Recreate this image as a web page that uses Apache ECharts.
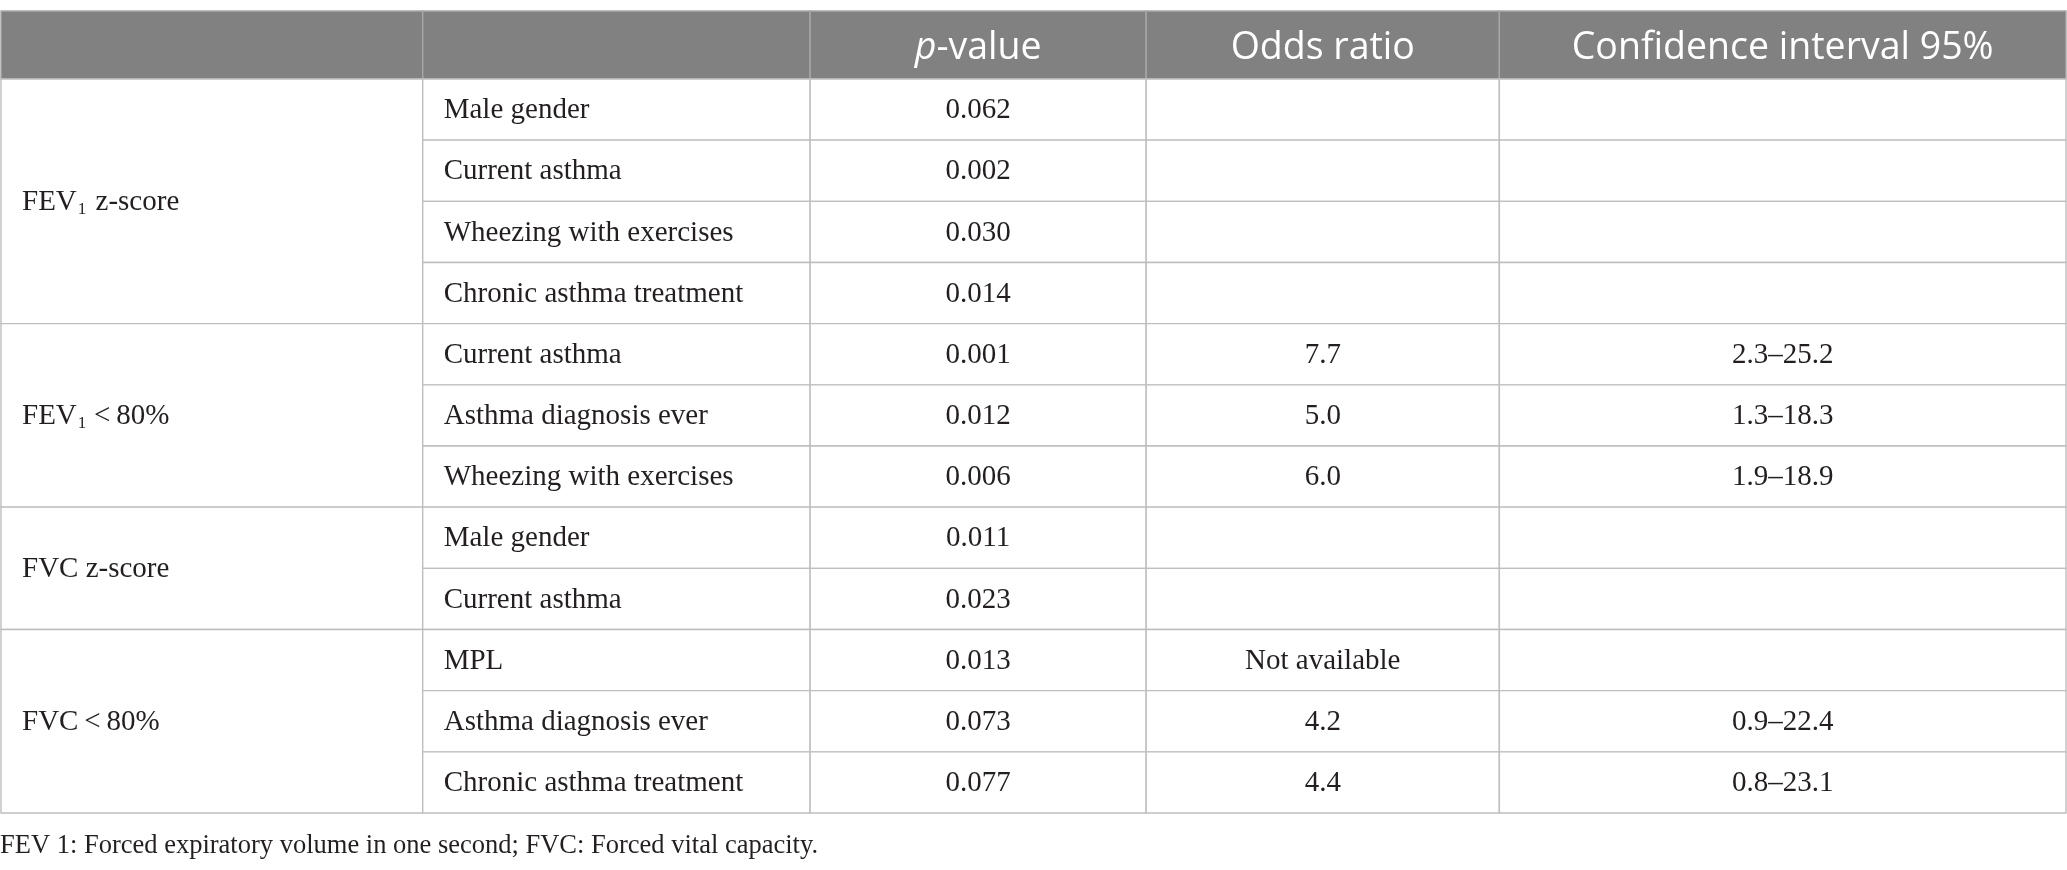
<!DOCTYPE html>
<html lang="en">
<head>
<meta charset="UTF-8">
<title>Lung function table</title>
<script src="https://cdn.jsdelivr.net/npm/echarts@6/dist/echarts.min.js"></script>
<style>
    html, body { margin: 0; padding: 0; background: #fff; }
    #main { width: 2067px; height: 870px; }
</style>
</head>
<body>
<div id="main"></div>
<script>
    // header texts, left to right ({it|..} = italic)
    var headers = ['', '', '{it|p}-value', 'Odds ratio', 'Confidence interval 95%'];
    // relative column widths
    var colWidths = [320, 294, 255, 268, 430];

    // row groups ({sub|..} = subscript) and how many rows each one spans
    var groups = ['FEV{sub|1} z-score', 'FEV{sub|1}\u2009<\u200980%', 'FVC z-score', 'FVC\u2009<\u200980%'];
    var groupSpans = [4, 3, 2, 3];

    var variables = [
        'Male gender', 'Current asthma', 'Wheezing with exercises', 'Chronic asthma treatment',
        'Current asthma', 'Asthma diagnosis ever', 'Wheezing with exercises',
        'Male gender', 'Current asthma',
        'MPL', 'Asthma diagnosis ever', 'Chronic asthma treatment'
    ];
    var pValues = ['0.062', '0.002', '0.030', '0.014', '0.001', '0.012', '0.006', '0.011', '0.023', '0.013', '0.073', '0.077'];
    var oddsRatios = ['', '', '', '', '7.7', '5.0', '6.0', '', '', 'Not available', '4.2', '4.4'];
    var confIntervals = ['', '', '', '', '2.3\u201325.2', '1.3\u201318.3', '1.9\u201318.9', '', '', '', '0.9\u201322.4', '0.8\u201323.1'];

    var footnote = 'FEV 1: Forced expiratory volume in one second; FVC: Forced vital capacity.';

    // column edges from the widths
    var colEdges = [0];
    colWidths.forEach(function (w, i) { colEdges.push(colEdges[i] + w); });
    var totalWidth = colEdges[colEdges.length - 1];
    var rowCount = variables.length;

    // header cells
    var headCells = headers.map(function (h, i) {
        return { value: [colEdges[i], colEdges[i + 1], 0, 1], text: h, align: 'center' };
    });

    // body cells
    var bodyCells = [];
    var r = 0;
    groups.forEach(function (g, i) {
        bodyCells.push({ value: [colEdges[0], colEdges[1], r, r + groupSpans[i]], text: g, align: 'left' });
        r += groupSpans[i];
    });
    var columns = [variables, pValues, oddsRatios, confIntervals];
    columns.forEach(function (col, c) {
        col.forEach(function (t, i) {
            bodyCells.push({ value: [colEdges[c + 1], colEdges[c + 2], i, i + 1], text: t, align: c === 0 ? 'left' : 'center' });
        });
    });

    var serif = '"Liberation Serif", "DejaVu Serif", serif';
    var sans = '"Open Sans", "Noto Sans", sans-serif';

    function cellRenderer(cells, look) {
        return function (params, api) {
            var cell = cells[params.dataIndex];
            var p0 = api.coord([api.value(0), api.value(2)]);
            var p1 = api.coord([api.value(1), api.value(3)]);
            var w = p1[0] - p0[0];
            var h = p1[1] - p0[1];
            var left = cell.align === 'left';
            return {
                type: 'group',
                children: [
                    {
                        type: 'rect',
                        shape: { x: p0[0], y: p0[1], width: w, height: h },
                        style: { fill: look.fill, stroke: look.stroke, lineWidth: 1.4 }
                    },
                    {
                        type: 'text',
                        x: left ? p0[0] + look.pad : p0[0] + w / 2,
                        y: p0[1] + h / 2 + look.dy,
                        style: {
                            text: cell.text,
                            align: left ? 'left' : 'center',
                            verticalAlign: 'middle',
                            fontFamily: look.font,
                            fontSize: look.size,
                            fill: look.color,
                            rich: look.rich
                        }
                    }
                ]
            };
        };
    }

    var chartDom = document.getElementById('main');
    var myChart = echarts.init(chartDom, null, { renderer: 'canvas' });

    var option = {
        backgroundColor: '#ffffff',
        animation: false,
        title: {
            text: footnote,
            left: 0,
            top: 833,
            padding: 0,
            textStyle: { fontFamily: serif, fontSize: 26.5, fontWeight: 'normal', color: '#231f20' }
        },
        grid: [
            { left: 1, right: 1, top: 11, height: 68 },
            { left: 1, right: 1, top: 79, height: 734 }
        ],
        xAxis: [
            { type: 'value', gridIndex: 0, min: 0, max: totalWidth, show: false },
            { type: 'value', gridIndex: 1, min: 0, max: totalWidth, show: false }
        ],
        yAxis: [
            { type: 'value', gridIndex: 0, min: 0, max: 1, inverse: true, show: false },
            { type: 'value', gridIndex: 1, min: 0, max: rowCount, inverse: true, show: false }
        ],
        series: [
            {
                type: 'custom',
                xAxisIndex: 0,
                yAxisIndex: 0,
                encode: { x: [0, 1], y: [2, 3] },
                data: headCells.map(function (c) { return c.value; }),
                renderItem: cellRenderer(headCells, {
                    fill: '#808180', stroke: '#a6a7a6', pad: 20, dy: 3,
                    font: sans, size: 37.5, color: '#ffffff',
                    rich: { it: { fontFamily: sans, fontSize: 37.5, fontStyle: 'italic', color: '#ffffff' } }
                })
            },
            {
                type: 'custom',
                xAxisIndex: 1,
                yAxisIndex: 1,
                encode: { x: [0, 1], y: [2, 3] },
                data: bodyCells.map(function (c) { return c.value; }),
                renderItem: cellRenderer(bodyCells, {
                    fill: '#ffffff', stroke: '#bebebe', pad: 21, dy: 1,
                    font: serif, size: 29, color: '#231f20',
                    rich: { sub: { fontFamily: serif, fontSize: 17, color: '#231f20', padding: [14, 2, 0, 1] } }
                })
            }
        ]
    };
    option && myChart.setOption(option);
</script>
</body>
</html>
